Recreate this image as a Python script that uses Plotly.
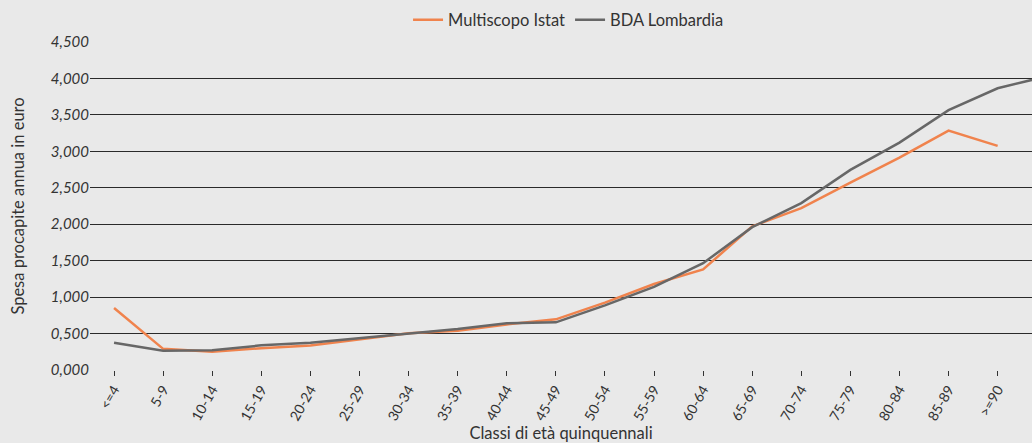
import plotly.graph_objects as go

categories = ["<=4", "5-9", "10-14", "15-19", "20-24", "25-29", "30-34", "35-39",
              "40-44", "45-49", "50-54", "55-59", "60-64", "65-69", "70-74",
              "75-79", "80-84", "85-89", ">=90"]
multiscopo = [850, 290, 250, 300, 335, 420, 503, 540, 625, 695, 925, 1180,
              1380, 1970, 2220, 2570, 2915, 3285, 3075]
# BDA series carries one extra point past the last labelled class (runs off the chart edge)
bda = [375, 265, 270, 338, 375, 434, 503, 562, 640, 654, 887, 1140,
       1465, 1960, 2290, 2745, 3120, 3565, 3865, 4030]
y_ticks = [0, 500, 1000, 1500, 2000, 2500, 3000, 3500, 4000, 4500]
y_ticktext = ["0,000", "0,500", "1,000", "1,500", "2,000", "2,500", "3,000",
              "3,500", "4,000", "4,500"]

FONT = "Lato, 'DejaVu Sans', sans-serif"

fig = go.Figure()
fig.add_trace(go.Scatter(
    x=list(range(len(multiscopo))), y=multiscopo, mode="lines",
    name="Multiscopo Istat", line=dict(color="#f0834d", width=2.5)))
fig.add_trace(go.Scatter(
    x=list(range(len(bda))), y=bda, mode="lines",
    name="BDA Lombardia", line=dict(color="#676767", width=2.5)))

fig.update_layout(
    width=1032, height=443,
    margin=dict(l=90, r=0, t=42, b=73),
    paper_bgcolor="#e9e9e9", plot_bgcolor="#e9e9e9",
    font=dict(family=FONT, color="#333333", size=14),
    showlegend=True,
    legend=dict(orientation="h", x=0.508, xanchor="center", y=1.067,
                yanchor="middle", font=dict(size=16.5, color="#333333"),
                bgcolor="rgba(0,0,0,0)", itemwidth=30),
)
fig.update_xaxes(
    range=[-0.49, 18.7],
    tickmode="array", tickvals=list(range(len(categories))), ticktext=categories,
    tickangle=-60, tickfont=dict(size=14, color="#333333"),
    ticks="outside", ticklen=5, tickcolor="#333333", tickwidth=1.2,
    showgrid=False, zeroline=False, showline=False,
    title=dict(text="Classi di età quinquennali", font=dict(size=16.5, color="#333333"),
               standoff=2),
)
fig.update_yaxes(
    range=[0, 4500],
    tickmode="array", tickvals=y_ticks, ticktext=y_ticktext,
    tickfont=dict(size=15, color="#333333", style="italic"),
    showgrid=True, gridcolor="#2a2a2a", gridwidth=1.3,
    zeroline=False, showline=False, ticks="",
    title=dict(text="Spesa procapite annua in euro", font=dict(size=16.5, color="#333333"),
               standoff=22),
)

fig.write_html("out.html", post_script="document.body.style.margin='0';",
               config={"displayModeBar": False})
